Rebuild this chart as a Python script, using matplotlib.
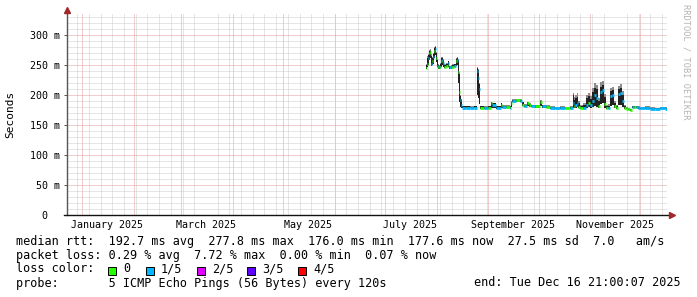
import numpy as np
import pandas as pd
import matplotlib
matplotlib.use('Agg')
import matplotlib.pyplot as plt
import matplotlib.dates as mdates
from matplotlib.patches import Rectangle

W, H = 697, 297
MONO = 'DejaVu Sans Mono'

# days since 2025-01-01
day = [205.7, 206.3, 206.9, 207.5, 208.1, 208.7, 209.3, 209.9, 210.5, 211.1,
       211.7, 212.3, 212.9, 213.5, 214.1, 214.7, 215.3, 215.9, 216.5,
       217.7, 218.9, 219.5, 220.7, 221.3, 222.5, 223.7, 224.3, 224.9, 225.5, 226.1, 226.7,
       227.3, 229.7, 232.1, 234.5, 236.2, 236.8, 237.4, 238.0,
       240.4, 242.8, 244.6, 245.2, 247.6, 250.6, 251.2, 253.6, 256.0,
       256.6, 257.2, 259.6, 262.0, 263.2, 264.4, 266.2, 267.3, 268.5, 270.9, 273.9, 275.1, 277.5, 279.9,
       282.9, 285.9, 288.9, 291.9,
       293.7, 294.3, 294.9, 296.1, 296.7, 297.8, 299.6, 301.4, 302.6, 303.8, 305.0, 306.2, 307.4, 308.6, 309.8, 311.0, 312.2,
       313.4, 314.6, 315.8, 317.0, 318.2, 319.4, 320.6, 321.8, 323.0, 324.2, 325.4, 326.6, 327.8, 329.0, 330.1, 331.3, 332.5, 333.7,
       336.7, 339.7, 342.7, 345.7, 348.7]

# median rtt in ms
median_ms = [245, 252, 262, 270, 272, 252, 256, 264, 273, 277,
             262, 249, 246, 246, 247, 256, 259, 253, 247,
             248, 253, 246, 246, 247, 248, 256, 258, 238, 205, 192, 184,
             179, 179, 179, 179, 240, 228, 210, 179,
             178, 179, 186, 183, 179, 184, 180, 180, 179,
             186, 190, 191, 190, 184, 182, 186, 183, 182, 181, 188, 181, 180, 178,
             178, 178, 178, 178,
             186, 182, 184, 186, 180, 178, 179, 184, 186, 183, 190, 200, 195, 182, 205, 208, 185,
             178, 179, 198, 200, 181, 178, 202, 204, 190, 178, 177, 176, 175, 180, 180, 180, 178, 178,
             178, 177, 177, 178, 177]

# dark smoke band
smoke_lo = [243, 246, 250, 258, 262, 248, 250, 252, 262, 266,
            255, 246, 244, 244, 245, 247, 250, 247, 245,
            246, 247, 244, 244, 245, 246, 248, 250, 220, 188, 180, 178,
            178, 178, 178, 178, 200, 195, 185, 177,
            177, 177, 179, 178, 177, 179, 178, 178, 177,
            180, 188, 189, 188, 181, 180, 181, 180, 180, 179, 181, 179, 178, 177,
            177, 176, 177, 177,
            179, 178, 179, 180, 178, 176, 177, 179, 180, 178, 180, 182, 180, 178, 185, 186, 179,
            176, 177, 182, 183, 178, 176, 183, 184, 180, 177, 176, 175, 174, 178, 178, 178, 177, 177,
            177, 176, 176, 177, 176]
smoke_hi = [250, 262, 266, 273, 274, 265, 262, 268, 278, 280,
            270, 258, 250, 249, 252, 262, 262, 258, 250,
            252, 256, 248, 249, 250, 251, 260, 262, 258, 235, 198, 192,
            181, 181, 180, 181, 245, 242, 218, 181,
            180, 181, 188, 186, 181, 186, 182, 182, 181,
            189, 192, 192, 192, 188, 184, 188, 185, 183, 183, 190, 183, 182, 180,
            179, 180, 179, 180,
            200, 192, 195, 197, 186, 181, 183, 195, 198, 193, 205, 212, 210, 190, 214, 216, 196,
            181, 182, 207, 208, 186, 181, 210, 212, 200, 181, 179, 177, 176, 181, 181, 181, 180, 179,
            180, 179, 178, 179, 179]
# light smoke above
smoke_top = [252, 265, 268, 275, 276, 268, 264, 270, 280, 282,
             272, 260, 252, 250, 254, 264, 263, 260, 251,
             253, 257, 249, 250, 251, 252, 261, 263, 260, 238, 200, 194,
             182, 182, 181, 182, 247, 244, 220, 182,
             181, 182, 189, 187, 182, 187, 183, 183, 182,
             190, 193, 193, 193, 189, 185, 189, 186, 184, 184, 191, 184, 183, 181,
             180, 181, 180, 181,
             203, 196, 200, 203, 190, 183, 186, 200, 203, 198, 212, 220, 217, 195, 222, 224, 202,
             184, 185, 212, 213, 190, 183, 215, 218, 206, 183, 180, 178, 177, 182, 182, 182, 181, 180,
             181, 180, 179, 180, 180]
# lost pings out of 5
loss = [0, 0, 1, 0, 0, 1, 0, 1, 0, 1,
        0, 1, 0, 1, 0, 0, 1, 1, 0,
        0, 1, 1, 0, 0, 1, 0, 1, 0, 0, 1, 1,
        1, 1, 1, 1, 1, 1, 1, 0,
        1, 0, 0, 1, 1, 0, 1, 0, 1,
        0, 1, 0, 1, 0, 1, 0, 0, 1, 0, 0, 1, 0, 1,
        1, 1, 0, 1,
        1, 0, 1, 1, 0, 0, 1, 1, 0, 1, 1, 1, 1, 0, 1, 1, 0,
        0, 1, 1, 1, 0, 0, 1, 1, 1, 0, 0, 0, 0, 1, 0, 1, 1, 1,
        1, 1, 1, 1, 1]

end_time = pd.Timestamp('2025-12-16 21:00:07')
span_days = 359

y_ticks = [0, 50, 100, 150, 200, 250, 300]
y_labels = ['0  ', '50 m', '100 m', '150 m', '200 m', '250 m', '300 m']
x_label_dates = ['2025-01-16', '2025-03-16', '2025-05-16', '2025-07-16', '2025-09-16', '2025-11-16']
x_labels = ['January 2025', 'March 2025', 'May 2025', 'July 2025', 'September 2025', 'November 2025']

loss_labels = ['0', '1/5', '2/5', '3/5', '4/5']
loss_colors = ['#26ff00', '#00b8ff', '#dd00ff', '#5e00ff', '#ff0000']

stat_lines = [
    'median rtt:  192.7 ms avg  277.8 ms max  176.0 ms min  177.6 ms now  27.5 ms sd  7.0   am/s',
    'packet loss: 0.29 % avg  7.72 % max  0.00 % min  0.07 % now',
]
probe_text = 'probe:       5 ICMP Echo Pings (56 Bytes) every 120s'
end_text = 'end: Tue Dec 16 21:00:07 2025'

# ---------------------------------------------------------------
t = pd.Timestamp('2025-01-01') + pd.to_timedelta(day, unit='D')
t_ext = list(t) + [end_time]

fig = plt.figure(figsize=(W / 100, H / 100), dpi=100)
fig.patch.set_facecolor('white')
ax = fig.add_axes([67 / W, (H - 215) / H, 600 / W, 202 / H])
ax.set_xlim(end_time - pd.Timedelta(days=span_days), end_time)
ax.set_ylim(0, 336.7)

grid_minor = '#cdcdcd'
grid_major = '#e39a9a'
dots = (0, (1, 1))
gkw = dict(lw=0.72, ls=dots)

# grid
ax.set_yticks(y_ticks)
ax.set_yticklabels(y_labels)
ax.set_yticks(np.arange(0, 340, 10), minor=True)
ax.grid(which='minor', axis='y', color=grid_minor, **gkw)
ax.grid(which='major', axis='y', color=grid_major, **gkw)
ax.xaxis.set_minor_locator(mdates.WeekdayLocator(byweekday=mdates.SU))
ax.grid(which='minor', axis='x', color=grid_minor, **gkw)
for m in pd.date_range('2025-01-01', '2025-12-01', freq='MS'):
    ax.axvline(m, color=grid_major, zorder=0.5, **gkw)
ax.set_xticks(pd.to_datetime(x_label_dates))
ax.set_xticklabels(x_labels)
ax.set_axisbelow(True)

# smoke
ax.fill_between(t_ext, smoke_lo + [smoke_lo[-1]], smoke_top + [smoke_top[-1]],
                step='post', color='#8c8c8c', lw=0, zorder=2)
ax.fill_between(t_ext, smoke_lo + [smoke_lo[-1]], smoke_hi + [smoke_hi[-1]],
                step='post', color='#222222', lw=0, zorder=3)

# median coloured by loss
for i in range(len(day)):
    ax.plot([t_ext[i], t_ext[i + 1]], [median_ms[i], median_ms[i]],
            color=loss_colors[loss[i]], lw=2.0, solid_capstyle='butt', zorder=4)

# axes styling
for s in ['top', 'right', 'left', 'bottom']:
    ax.spines[s].set_visible(False)
ax.plot([0, 0], [0, 1.012], transform=ax.transAxes, clip_on=False, color='#555555', lw=1.0, zorder=5)
ax.plot([-0.005, 1.006], [0, 0], transform=ax.transAxes, clip_on=False, color='#111111', lw=1.0, zorder=5)
ax.plot([0], [1.015], marker='^', ms=5, color='#a02828', transform=ax.transAxes, clip_on=False, zorder=6)
ax.plot([1.008], [0], marker='>', ms=5, color='#a02828', transform=ax.transAxes, clip_on=False, zorder=6)

ax.tick_params(axis='y', which='major', length=2.2, width=0.7, color='#555555', pad=2.9,
               labelsize=7.2, labelfontfamily=MONO)
ax.tick_params(axis='y', which='minor', length=0)
ax.tick_params(axis='x', which='both', length=0, pad=3.5, labelsize=7.2, labelfontfamily=MONO)

# labels
fig.text(10 / W, 1 - 114 / H, 'Seconds', rotation=90, ha='center', va='center',
         fontsize=8, family=MONO)
fig.text(686 / W, 1 - 4 / H, 'RRDTOOL / TOBI OETIKER', rotation=-90, ha='center', va='top',
         fontsize=6.2, family=MONO, color='#b4b4b4')

# legend area
fs = 8.5
for k, line in enumerate(stat_lines):
    fig.text(16 / W, 1 - (241 + 14 * k) / H, line, ha='left', va='center', fontsize=fs, family=MONO)
fig.text(16 / W, 1 - 269 / H, 'loss color:', ha='left', va='center', fontsize=fs, family=MONO)
box_x = [108, 146, 197, 247, 298]
for bx, lab, col in zip(box_x, loss_labels, loss_colors):
    fig.add_artist(Rectangle((bx / W, 1 - 274.5 / H), 8 / W, 8 / H, transform=fig.transFigure,
                             facecolor=col, edgecolor='black', lw=0.7))
    fig.text((bx + 15) / W, 1 - 269 / H, lab, ha='left', va='center', fontsize=fs, family=MONO)
fig.text(16 / W, 1 - 283 / H, probe_text, ha='left', va='center', fontsize=fs, family=MONO)
fig.text(681 / W, 1 - 283 / H, end_text, ha='right', va='center', fontsize=fs, family=MONO)

fig.savefig('out.png', dpi=100)
